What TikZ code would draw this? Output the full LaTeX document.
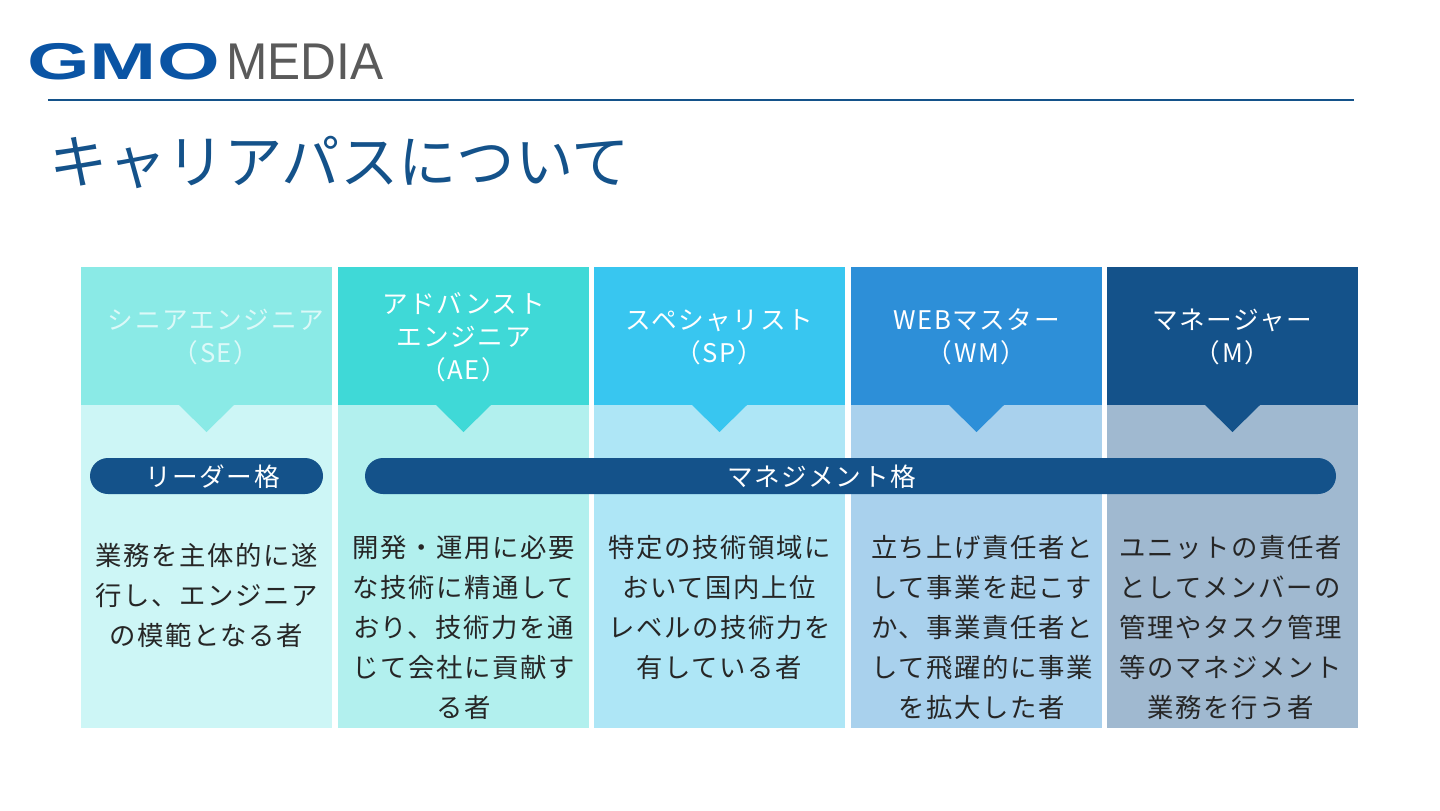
\documentclass[tikz,border=0pt]{standalone}
\usepackage{fontspec}
\usepackage{tikz}
\setmainfont{Noto Sans CJK JP}
\newfontfamily\jpfont[LetterSpace=6]{Noto Sans CJK JP}
\newfontfamily\logosans{Liberation Sans}
\definecolor{titleBlue}{RGB}{20, 82, 138}
\definecolor{headSE}{RGB}{138, 234, 230}
\definecolor{headAE}{RGB}{63, 217, 215}
\definecolor{headSP}{RGB}{56, 198, 240}
\definecolor{headWM}{RGB}{45, 143, 216}
\definecolor{bodySE}{RGB}{205, 246, 246}
\definecolor{bodyAE}{RGB}{178, 240, 238}
\definecolor{bodySP}{RGB}{174, 230, 246}
\definecolor{bodyWM}{RGB}{169, 209, 237}
\definecolor{bodyM}{RGB}{160, 185, 208}
\definecolor{logoBlue}{RGB}{10, 84, 164}
\definecolor{logoGray}{RGB}{90, 90, 90}
\begin{document}
\begin{tikzpicture}[
    headtext/.style={text=white, align=center, font=\jpfont\fontsize{7.3}{9.4}\selectfont, inner sep=0pt},
    bodytext/.style={text=black!85, align=center, font=\jpfont\fontsize{7.5}{11.38}\selectfont, inner sep=0pt},
    pilltext/.style={text=white, font=\jpfont\fontsize{7.3}{9.4}\selectfont, inner sep=0pt}]
        \useasboundingbox (0,0) rectangle (14.4,8.1);
        \fill[white] (0,0) rectangle (14.4,8.1);

        \node[text=logoBlue, font=\logosans\bfseries\fontsize{14.7}{15}\selectfont, xscale=1.56, inner sep=0pt] (logoGMO) at (1.235,7.485) {GMO};
        \node[text=logoGray, font=\logosans\fontsize{14.7}{15}\selectfont, xscale=0.96, inner sep=0pt] (logoMEDIA) at (3.05,7.485) {MEDIA};
        \draw[titleBlue, line width=0.65pt] (0.48,7.1) -- (13.54,7.1);
        \node[text=titleBlue, anchor=west, font=\fontsize{16.6}{18}\selectfont, inner sep=0pt] (title) at (0.49,6.48) {キャリアパスについて};

        \fill[headSE] (0.81,4.05) rectangle (3.32,5.43);
        \fill[bodySE] (0.81,0.82) rectangle (3.32,4.05);
        \fill[headSE] (1.79,4.05) -- (2.34,4.05) -- (2.065,3.78) -- cycle;
        \fill[headAE] (3.38,4.05) rectangle (5.89,5.43);
        \fill[bodyAE] (3.38,0.82) rectangle (5.89,4.05);
        \fill[headAE] (4.36,4.05) -- (4.91,4.05) -- (4.635,3.78) -- cycle;
        \fill[headSP] (5.94,4.05) rectangle (8.45,5.43);
        \fill[bodySP] (5.94,0.82) rectangle (8.45,4.05);
        \fill[headSP] (6.92,4.05) -- (7.47,4.05) -- (7.195,3.78) -- cycle;
        \fill[headWM] (8.51,4.05) rectangle (11.02,5.43);
        \fill[bodyWM] (8.51,0.82) rectangle (11.02,4.05);
        \fill[headWM] (9.49,4.05) -- (10.04,4.05) -- (9.765,3.78) -- cycle;
        \fill[titleBlue] (11.07,4.05) rectangle (13.58,5.43);
        \fill[bodyM] (11.07,0.82) rectangle (13.58,4.05);
        \fill[titleBlue] (12.05,4.05) -- (12.6,4.05) -- (12.325,3.78) -- cycle;

        \node[headtext, text=white!70!headSE] (headSE) at (2.16,4.73) {シニアエンジニア\\（SE）};
        \node[headtext] (headAE) at (4.635,4.73) {アドバンスト\\エンジニア\\（AE）};
        \node[headtext] (headSP) at (7.195,4.73) {スペシャリスト\\（SP）};
        \node[headtext] (headWM) at (9.765,4.73) {WEBマスター\\（WM）};
        \node[headtext] (headM) at (12.325,4.73) {マネージャー\\（M）};

        \fill[titleBlue, rounded corners=0.18cm] (0.9,3.16) rectangle (3.23,3.52);
        \fill[titleBlue, rounded corners=0.18cm] (3.65,3.16) rectangle (13.36,3.52);
        \node[pilltext] (leader) at (2.125,3.33) {リーダー格};
        \node[pilltext] (manage) at (8.215,3.33) {マネジメント格};

        \node[bodytext] (bodySE) at (2.065,2.15) {業務を主体的に遂\\行し、エンジニア\\の模範となる者};
        \node[bodytext] (bodyAE) at (4.635,1.825) {開発・運用に必要\\な技術に精通して\\おり、技術力を通\\じて会社に貢献す\\る者};
        \node[bodytext] (bodySP) at (7.195,2.03) {特定の技術領域に\\おいて国内上位\\レベルの技術力を\\有している者};
        \node[bodytext] (bodyWM) at (9.82,1.825) {立ち上げ責任者と\\して事業を起こす\\か、事業責任者と\\して飛躍的に事業\\を拡大した者};
        \node[bodytext] (bodyM) at (12.305,1.825) {ユニットの責任者\\としてメンバーの\\管理やタスク管理\\等のマネジメント\\業務を行う者};
\end{tikzpicture}
\end{document}
